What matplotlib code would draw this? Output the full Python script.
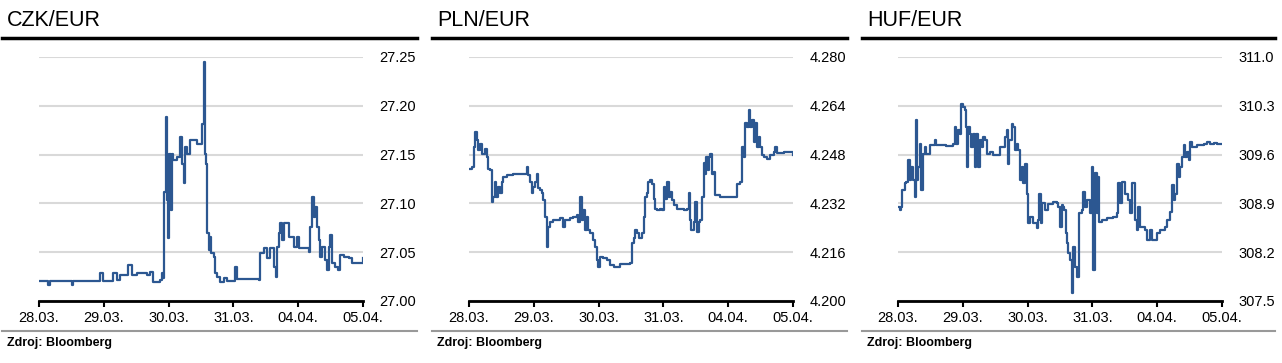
import matplotlib
matplotlib.use("Agg")
import matplotlib.pyplot as plt
from matplotlib.lines import Line2D

plt.rcParams['font.family'] = ['Liberation Sans', 'DejaVu Sans']

# trading days on the x axis
dni = ['28.03.', '29.03.', '30.03.', '31.03.', '04.04.', '05.04.']

# CZK/EUR intraday (position in trading days, rate)
czk_x = [0.000, 0.144, 0.170, 0.427, 0.505, 0.530, 0.942, 0.994, 1.148, 1.200,
         1.251, 1.380, 1.431, 1.509, 1.663, 1.715, 1.766, 1.869, 1.895, 1.921,
         1.936, 1.957, 1.972, 1.988, 2.008, 2.034, 2.049, 2.075, 2.127, 2.178,
         2.204, 2.230, 2.255, 2.281, 2.333, 2.436, 2.513, 2.523, 2.549, 2.559,
         2.580, 2.590, 2.616, 2.642, 2.657, 2.693, 2.719, 2.745, 2.796, 2.848,
         2.899, 3.028, 3.054, 3.388, 3.414, 3.466, 3.517, 3.568, 3.620, 3.661,
         3.671, 3.697, 3.723, 3.749, 3.774, 3.816, 3.852, 3.929, 3.980, 4.006,
         4.161, 4.186, 4.212, 4.238, 4.264, 4.289, 4.315, 4.341, 4.367, 4.418,
         4.444, 4.470, 4.495, 4.521, 4.573, 4.609, 4.640, 4.701, 4.779, 4.830,
         4.959, 5.000]
czk_y = [27.0205, 27.0164, 27.0205, 27.0205, 27.0164, 27.0205, 27.0283, 27.0205, 27.0283, 27.0215,
         27.0266, 27.0368, 27.0266, 27.0283, 27.0266, 27.0300, 27.0198, 27.0215, 27.0283, 27.0232,
         27.1118, 27.1886, 27.1033, 27.0641, 27.1511, 27.0931, 27.1511, 27.1442, 27.1477, 27.1681,
         27.1408, 27.1204, 27.1579, 27.1511, 27.1647, 27.1613, 27.1613, 27.1818, 27.2448, 27.1511,
         27.1408, 27.0692, 27.0522, 27.0658, 27.0488, 27.0454, 27.0283, 27.0249, 27.0198, 27.0232,
         27.0208, 27.0351, 27.0222, 27.0215, 27.0488, 27.0539, 27.0436, 27.0539, 27.0351, 27.0249,
         27.0556, 27.0692, 27.0795, 27.0624, 27.0795, 27.0795, 27.0658, 27.0556, 27.0658, 27.0539,
         27.0505, 27.0760, 27.1067, 27.0863, 27.0965, 27.0760, 27.0624, 27.0454, 27.0556, 27.0419,
         27.0317, 27.0556, 27.0675, 27.0385, 27.0351, 27.0317, 27.0471, 27.0454, 27.0436, 27.0385,
         27.0385, 27.0436]

# PLN/EUR intraday
pln_x = [0.000, 0.041, 0.067, 0.082, 0.098, 0.118, 0.144, 0.170, 0.196, 0.247,
         0.273, 0.299, 0.324, 0.350, 0.376, 0.402, 0.417, 0.453, 0.479, 0.505,
         0.530, 0.582, 0.685, 0.865, 0.891, 0.917, 0.942, 0.968, 0.994, 1.020,
         1.045, 1.071, 1.097, 1.123, 1.148, 1.174, 1.200, 1.210, 1.226, 1.251,
         1.303, 1.406, 1.457, 1.483, 1.560, 1.612, 1.663, 1.689, 1.715, 1.740,
         1.766, 1.792, 1.818, 1.843, 1.869, 1.921, 1.946, 1.972, 1.998, 2.024,
         2.075, 2.127, 2.178, 2.230, 2.333, 2.487, 2.513, 2.539, 2.564, 2.590,
         2.616, 2.667, 2.693, 2.719, 2.745, 2.770, 2.796, 2.822, 2.848, 2.873,
         2.899, 2.951, 2.976, 3.002, 3.028, 3.054, 3.079, 3.105, 3.131, 3.157,
         3.208, 3.311, 3.363, 3.388, 3.404, 3.424, 3.466, 3.491, 3.517, 3.543,
         3.568, 3.594, 3.620, 3.646, 3.661, 3.682, 3.702, 3.723, 3.749, 3.774,
         3.800, 3.877, 4.109, 4.135, 4.186, 4.212, 4.238, 4.264, 4.289, 4.315,
         4.341, 4.367, 4.392, 4.418, 4.444, 4.470, 4.495, 4.521, 4.547, 4.598,
         4.650, 4.701, 4.727, 4.753, 4.856, 4.959, 5.000]
pln_y = [4.2434, 4.2440, 4.2440, 4.2505, 4.2554, 4.2527, 4.2494, 4.2516, 4.2483, 4.2500,
         4.2473, 4.2434, 4.2429, 4.2325, 4.2342, 4.2391, 4.2342, 4.2374, 4.2353, 4.2391,
         4.2407, 4.2413, 4.2416, 4.2416, 4.2440, 4.2413, 4.2391, 4.2353, 4.2374, 4.2391,
         4.2418, 4.2369, 4.2363, 4.2353, 4.2331, 4.2276, 4.2222, 4.2178, 4.2243, 4.2260,
         4.2265, 4.2271, 4.2243, 4.2265, 4.2271, 4.2276, 4.2282, 4.2260, 4.2342, 4.2265,
         4.2298, 4.2232, 4.2276, 4.2232, 4.2222, 4.2200, 4.2178, 4.2134, 4.2112, 4.2145,
         4.2140, 4.2134, 4.2118, 4.2112, 4.2120, 4.2123, 4.2189, 4.2205, 4.2232, 4.2222,
         4.2205, 4.2222, 4.2276, 4.2342, 4.2353, 4.2391, 4.2396, 4.2385, 4.2336, 4.2303,
         4.2298, 4.2303, 4.2298, 4.2374, 4.2336, 4.2391, 4.2342, 4.2358, 4.2331, 4.2314,
         4.2303, 4.2300, 4.2303, 4.2353, 4.2265, 4.2232, 4.2260, 4.2325, 4.2227, 4.2260,
         4.2265, 4.2342, 4.2451, 4.2418, 4.2473, 4.2429, 4.2473, 4.2483, 4.2418, 4.2423,
         4.2347, 4.2342, 4.2342, 4.2385, 4.2391, 4.2505, 4.2473, 4.2582, 4.2571, 4.2625,
         4.2571, 4.2593, 4.2522, 4.2582, 4.2505, 4.2538, 4.2505, 4.2478, 4.2473, 4.2464,
         4.2478, 4.2489, 4.2505, 4.2486, 4.2489, 4.2489, 4.2480]

# HUF/EUR intraday
huf_x = [0.000, 0.026, 0.052, 0.067, 0.103, 0.129, 0.155, 0.180, 0.206, 0.232,
         0.258, 0.284, 0.299, 0.309, 0.335, 0.361, 0.387, 0.412, 0.438, 0.490,
         0.541, 0.567, 0.593, 0.747, 0.851, 0.876, 0.902, 0.928, 0.954, 0.979,
         1.005, 1.031, 1.046, 1.067, 1.082, 1.108, 1.134, 1.160, 1.186, 1.211,
         1.237, 1.263, 1.289, 1.314, 1.340, 1.366, 1.418, 1.469, 1.521, 1.572,
         1.624, 1.649, 1.675, 1.701, 1.716, 1.753, 1.778, 1.804, 1.830, 1.856,
         1.881, 1.907, 1.933, 1.959, 1.985, 2.010, 2.036, 2.088, 2.139, 2.165,
         2.180, 2.201, 2.216, 2.268, 2.320, 2.397, 2.448, 2.474, 2.500, 2.526,
         2.552, 2.567, 2.593, 2.603, 2.629, 2.655, 2.680, 2.706, 2.732, 2.758,
         2.784, 2.799, 2.835, 2.861, 2.887, 2.912, 2.964, 2.990, 3.015, 3.041,
         3.067, 3.082, 3.108, 3.144, 3.222, 3.325, 3.376, 3.402, 3.428, 3.454,
         3.505, 3.557, 3.582, 3.608, 3.660, 3.686, 3.711, 3.737, 3.789, 3.814,
         3.840, 3.892, 3.918, 3.995, 4.046, 4.124, 4.149, 4.201, 4.227, 4.253,
         4.278, 4.304, 4.330, 4.356, 4.381, 4.407, 4.433, 4.459, 4.485, 4.510,
         4.536, 4.562, 4.613, 4.716, 4.768, 4.820, 4.871, 4.923, 5.000]
huf_y = [308.851, 308.804, 308.851, 309.090, 309.186, 309.209, 309.520, 309.233, 309.424, 309.233,
         308.995, 310.093, 309.233, 309.424, 309.759, 309.090, 309.615, 309.711, 309.615, 309.735,
         309.735, 309.806, 309.735, 309.725, 309.759, 309.997, 309.759, 309.950, 309.902, 310.332,
         310.284, 310.236, 309.997, 309.424, 309.997, 309.902, 309.711, 309.902, 309.424, 309.902,
         309.424, 309.806, 309.711, 309.854, 309.806, 309.615, 309.639, 309.591, 309.591, 309.711,
         309.711, 309.854, 309.950, 309.472, 309.806, 310.045, 309.997, 309.663, 309.759, 309.663,
         309.233, 309.424, 309.186, 309.472, 309.042, 308.613, 308.708, 308.613, 308.541, 308.660,
         309.042, 308.613, 308.899, 308.804, 308.890, 308.923, 308.899, 308.851, 308.565, 308.875,
         308.851, 308.804, 308.469, 308.326, 308.183, 308.087, 307.610, 308.278, 307.992, 307.849,
         307.849, 308.756, 308.804, 309.066, 308.851, 308.947, 308.756, 309.424, 307.944, 309.329,
         308.756, 309.281, 308.636, 308.660, 308.684, 308.708, 308.756, 309.186, 308.899, 309.209,
         309.042, 308.947, 308.756, 309.186, 308.660, 308.517, 308.851, 308.565, 308.565, 308.517,
         308.374, 308.517, 308.374, 308.469, 308.517, 308.565, 308.660, 308.780, 309.162, 308.947,
         309.042, 309.472, 309.281, 309.424, 309.568, 309.735, 309.568, 309.639, 309.520, 309.782,
         309.711, 309.711, 309.735, 309.759, 309.782, 309.749, 309.768, 309.759, 309.758]

panels = [
    ('CZK/EUR', czk_x, czk_y, [27.00, 27.05, 27.10, 27.15, 27.20, 27.25], '%.2f'),
    ('PLN/EUR', pln_x, pln_y, [4.200, 4.216, 4.232, 4.248, 4.264, 4.280], '%.3f'),
    ('HUF/EUR', huf_x, huf_y, [307.5, 308.2, 308.9, 309.6, 310.3, 311.0], '%.1f'),
]

W, H = 1282, 363
fig = plt.figure(figsize=(W / 100, H / 100), dpi=100)
barva = '#2c5791'

def fx(px):
    return px / W

def fy(py):
    return 1 - py / H

lefts = [39, 469, 898]
rule_x = [(2, 417), (432, 847), (862, 1275)]

for i, (nazev, xs, ys, yt, fmt) in enumerate(panels):
    l = lefts[i]
    ax = fig.add_axes([fx(l), fy(301), 324 / W, 244 / H])
    ax.plot(xs, ys, color=barva, lw=1.6, drawstyle='steps-post')
    ax.set_xlim(0, 5)
    ax.set_ylim(yt[0], yt[-1])
    ax.set_yticks(yt)
    ax.set_yticklabels([fmt % v for v in yt])
    ax.yaxis.tick_right()
    ax.tick_params(axis='y', length=0, pad=12, labelsize=10.5)
    ax.set_xticks(range(len(dni)))
    ax.set_xticklabels(dni)
    ax.tick_params(axis='x', length=4, width=1.5, pad=3, labelsize=10.5, direction='out')
    for s in ['top', 'left', 'right']:
        ax.spines[s].set_visible(False)
    ax.spines['bottom'].set_linewidth(2)
    ax.grid(axis='y', color='#d9d9d9', lw=1.5)
    ax.set_axisbelow(True)

    x0, x1 = rule_x[i]
    fig.add_artist(Line2D([fx(x0), fx(x1)], [fy(38), fy(38)], color='black', lw=2.5))
    fig.add_artist(Line2D([fx(x0), fx(x1)], [fy(331), fy(331)], color='#999999', lw=1.5))
    fig.text(fx(x0 + 5), fy(26), nazev, fontsize=15.5, ha='left', va='baseline')
    fig.text(fx(x0 + 5), fy(343), 'Zdroj: Bloomberg', fontsize=9, fontweight='bold',
             ha='left', va='center')

fig.savefig('out.png', dpi=100)
